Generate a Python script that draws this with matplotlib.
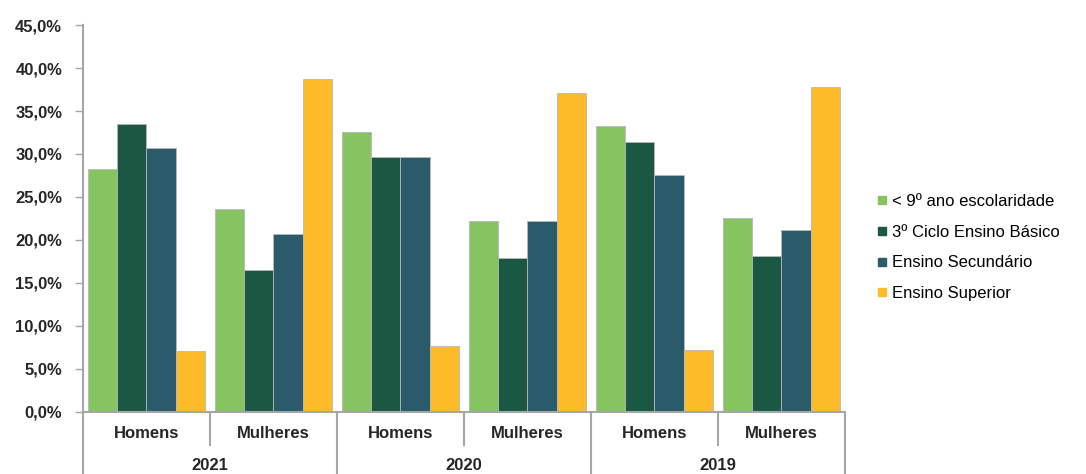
import matplotlib
matplotlib.use('Agg')
import matplotlib.pyplot as plt
from matplotlib.lines import Line2D
from matplotlib.ticker import FuncFormatter
import numpy as np

plt.rcParams['font.family'] = ['Liberation Sans', 'DejaVu Sans']

years = ['2021', '2020', '2019']
sexes = ['Homens', 'Mulheres']
series = ['< 9º ano escolaridade', '3º Ciclo Ensino Básico', 'Ensino Secundário', 'Ensino Superior']

# one value per (year, sex) group, in the order 2021H, 2021M, 2020H, 2020M, 2019H, 2019M
menos_9ano = [28.3, 23.6, 32.6, 22.2, 33.3, 22.6]
ciclo3 = [33.5, 16.5, 29.7, 17.9, 31.4, 18.1]
secundario = [30.7, 20.7, 29.7, 22.2, 27.6, 21.1]
superior = [7.1, 38.7, 7.6, 37.1, 7.2, 37.8]

colors = ['#86c462', '#1a5844', '#2b5a6b', '#fdbb2a']
grey = '#a6a6a6'

fig = plt.figure(figsize=(10.86, 4.74), dpi=100)
ax = fig.add_axes([0.0764, 0.1314, 0.7016, 0.8156])

x = np.arange(len(years) * len(sexes))
w = 0.23
for i, vals in enumerate([menos_9ano, ciclo3, secundario, superior]):
    ax.bar(x + (i - 1.5) * w, vals, width=w, color=colors[i],
           edgecolor='#b8b8b8', linewidth=0.6, label=series[i], zorder=2)

ax.set_xlim(-0.5, len(x) - 0.5)
ax.set_ylim(0, 45)
ax.set_yticks(np.arange(0, 46, 5))
ax.yaxis.set_major_formatter(FuncFormatter(lambda v, p: ('%.1f%%' % v).replace('.', ',')))
for lab in ax.get_yticklabels():
    lab.set_fontweight('bold')
    lab.set_color('#262626')
ax.tick_params(axis='y', labelsize=12, length=6, color=grey, width=1, pad=9)
ax.set_xticks([])

for s in ['top', 'right']:
    ax.spines[s].set_visible(False)
for s in ['left', 'bottom']:
    ax.spines[s].set_color(grey)
    ax.spines[s].set_linewidth(1.5)

trans = ax.get_xaxis_transform()
# sex labels and short separators
for k in range(len(x)):
    ax.text(x[k], -0.056, sexes[k % 2], transform=trans, ha='center', va='center',
            fontsize=12, fontweight='bold', color='#262626')
for k in range(len(years)):
    mid = 2 * k + 0.5
    ax.add_line(Line2D([mid, mid], [0, -0.087], transform=trans, color=grey,
                       lw=1.5, clip_on=False))
    ax.text(mid, -0.14, years[k], transform=trans, ha='center', va='center',
            fontsize=12, fontweight='bold', color='#262626')
# long separators between years
for b in [-0.5, 1.5, 3.5, 5.5]:
    ax.add_line(Line2D([b, b], [0, -0.2], transform=trans, color=grey,
                       lw=1.5, clip_on=False))

handles = [Line2D([], [], marker='s', ls='', markersize=6, color=c) for c in colors]
fig.legend(handles, series, loc='center left', bbox_to_anchor=(0.801, 0.478),
           frameon=False, fontsize=12, handlelength=0.6, handletextpad=0.3,
           labelspacing=0.95, borderaxespad=0)

fig.savefig('out.png', dpi=100)
